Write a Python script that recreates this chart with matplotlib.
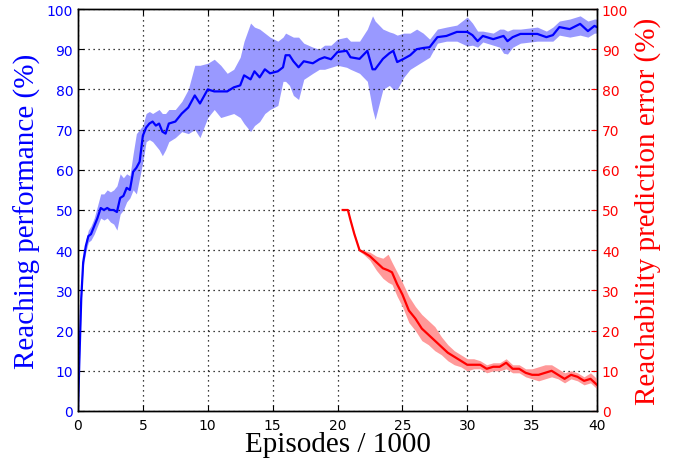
import matplotlib
matplotlib.use("Agg")
import matplotlib.pyplot as plt

# Blue series: reaching performance (%)
blue_x = [0.0, 0.1, 0.25, 0.4, 0.6, 0.8, 1.0, 1.25, 1.5, 1.75, 2.0, 2.25, 2.5, 2.75, 3.0, 3.25,
          3.5, 3.75, 4.0, 4.25, 4.5, 4.75, 5.0, 5.25, 5.5, 5.75, 6.0, 6.25, 6.5, 6.75, 7.0, 7.5,
          8.0, 8.5, 9.0, 9.4, 10.0, 10.5, 11.0, 11.5, 12.0, 12.5, 12.8, 13.3, 13.6, 14.0, 14.4,
          14.8, 15.4, 15.8, 16.0, 16.3, 16.6, 17.0, 17.4, 18.1, 18.6, 19.0, 19.5, 20.0, 20.7,
          21.0, 21.7, 22.3, 22.7, 22.9, 23.5, 24.0, 24.3, 24.6, 25.1, 25.6, 26.1, 26.6, 27.1,
          27.7, 28.4, 29.2, 30.0, 30.4, 30.8, 31.2, 32.0, 32.5, 32.8, 33.1, 33.5, 34.1, 35.4,
          36.1, 36.6, 37.1, 37.9, 38.7, 39.3, 39.8, 40.0]
blue_mean = [0, 12, 28, 37, 41, 43.5, 44, 46, 48, 50.5, 50, 50.5, 50, 50, 49.5, 53,
             53.5, 55.5, 55, 59.5, 60.5, 62, 68.5, 70.5, 71.5, 72, 71, 71.5, 69.5, 69, 71.5, 72,
             74, 75.5, 78.5, 76.5, 80, 79.5, 79.5, 79.5, 80.5, 81, 83.5, 82.5, 84.5, 83, 85,
             84, 84.5, 85.5, 88.5, 88.5, 87, 85.5, 87, 86.5, 87.5, 88, 87.5, 89.3, 89.6,
             88, 87.6, 89.6, 85, 85, 87.6, 89, 89.6, 86.8, 87.6, 88.5, 90, 90.3, 90.5,
             93, 93.3, 94.3, 94.3, 93.5, 92, 93.3, 92.5, 93, 93.3, 92, 93, 93.8, 93.8,
             93, 93.5, 95.5, 95, 96.3, 94.5, 95.8, 95.5]
blue_lo = [0, 11, 27, 36, 39.5, 42, 42.5, 44, 46, 48, 47.5, 48, 47, 46.5, 45, 49,
           50, 52, 53, 55, 54, 58, 62, 67, 67.5, 67, 66, 65, 63.5, 65, 67, 68,
           69.5, 69, 70, 68, 73, 75, 73, 73.5, 74, 73, 71.5, 69.5, 71, 72, 74,
           75, 76, 82, 82, 81, 78.5, 77.5, 82.5, 84, 85, 85, 85.5, 86, 85.5,
           85, 84, 82, 75, 72.5, 80, 81, 80, 80, 83, 85, 86, 87, 88,
           91.5, 92, 92, 90.8, 91, 90.5, 91.8, 91, 90.5, 89, 88.8, 90.5, 91.5, 92,
           92, 92, 93.5, 93, 93.5, 93, 94, 94]
blue_hi = [0, 13, 29.5, 38.5, 42.5, 45, 46, 48, 51, 54, 54, 55, 54.5, 55, 56, 59,
           58, 59, 58.5, 64, 69, 70, 71, 74, 74.5, 74, 74.5, 75, 74, 74, 75, 75,
           77, 80, 86, 86, 86.5, 87.5, 86, 84, 85, 88, 92, 96.5, 95.5, 95, 94,
           93, 92, 93, 94, 93.5, 93, 93, 91.5, 90.5, 90, 91, 91, 92.5, 93,
           92, 92, 95, 98.3, 97, 95, 94.3, 94, 93.5, 94, 94, 95, 94, 92.5,
           95, 95.5, 96, 98, 96.5, 94.5, 94.5, 94, 95, 95, 94.5, 95, 95, 95.5,
           94.5, 95.5, 97, 97.5, 98.3, 97, 97.5, 97.5]

# Red series: reachability prediction error (%)
red_x = [20.4, 20.8, 21.0, 21.3, 21.7, 22.0, 22.5, 23.0, 23.5, 23.9, 24.2, 24.6, 25.0, 25.5,
         26.0, 26.5, 27.0, 27.5, 28.0, 28.5, 29.0, 29.5, 30.0, 30.5, 31.0, 31.5, 32.0, 32.5,
         33.0, 33.5, 34.0, 34.5, 35.0, 35.5, 36.0, 36.5, 37.0, 37.5, 38.0, 38.5, 39.0, 39.5, 40.0]
red_mean = [50, 50, 47.5, 44, 40, 39.5, 38.5, 37, 35.5, 35, 34.5, 31.5, 29, 25,
            23, 20.5, 19, 17.5, 16, 14.5, 13.5, 12.5, 11.5, 11.5, 11.5, 10.5, 11, 11,
            12, 10.5, 10.5, 9.5, 9, 9, 9.5, 10, 9, 8, 9, 8.5, 7.5, 8, 6.5]
red_lo = [50, 50, 47.3, 43.7, 39.7, 39, 37.5, 35, 33, 32, 31.5, 28.5, 26, 22,
          20, 17.5, 16.5, 15, 14, 12.5, 11.5, 11, 10, 10.5, 10.5, 9.5, 10, 10,
          10.5, 9.5, 9.5, 8.5, 8, 7.5, 8, 8.5, 8, 7, 8, 7.5, 6.5, 7, 5.5]
red_hi = [50, 50, 47.7, 44.3, 40.3, 40, 39.5, 38.5, 38, 39, 37, 34.5, 32, 28.5,
          26, 24, 22.5, 21, 18.5, 16.5, 15, 14, 13, 13, 12.5, 11.5, 12, 12,
          13, 11.5, 11.5, 10.5, 10.5, 11, 11.5, 11.5, 10.5, 9.5, 10, 9.5, 8.5, 9.5, 8]

x_ticks = [0, 5, 10, 15, 20, 25, 30, 35, 40]
y_ticks = [0, 10, 20, 30, 40, 50, 60, 70, 80, 90, 100]

serif = ['Liberation Serif', 'DejaVu Serif']

fig = plt.figure(figsize=(6.78, 4.64), dpi=100)
ax = fig.add_axes([78/678, 52/464, (597-78)/678, (412-10)/464])
ax2 = ax.twinx()

ax.fill_between(blue_x, blue_lo, blue_hi, color='#9999ff', linewidth=0)
ax.plot(blue_x, blue_mean, color='#0000ff', linewidth=1.6)
ax2.fill_between(red_x, red_lo, red_hi, color='#ff9999', linewidth=0)
ax2.plot(red_x, red_mean, color='#ff0000', linewidth=1.6)

ax.set_xlim(0, 40)
ax.set_ylim(0, 100)
ax2.set_ylim(0, 100)
ax.set_xticks(x_ticks)
ax.set_yticks(y_ticks)
ax2.set_yticks(y_ticks)
ax.grid(True, color='k', linestyle=(0, (1, 3)), linewidth=0.9)

ax.tick_params(axis='both', direction='in', length=4, labelsize=10, top=True)
ax.tick_params(axis='x', pad=5, labelcolor='k')
ax.tick_params(axis='y', labelcolor='#0000ff', right=False)
ax2.tick_params(axis='y', direction='in', length=4, labelsize=10, colors='#ff0000')
for a in (ax, ax2):
    for s in a.spines.values():
        s.set_linewidth(1.0)
        s.set_color('k')

ax.set_xlabel('Episodes / 1000', fontsize=21, family=serif, labelpad=-1)
ax.set_ylabel('Reaching performance (%)', fontsize=21, family=serif, color='#0000ff', labelpad=4)
ax2.set_ylabel('Reachability prediction error (%)', fontsize=21, family=serif, color='#ff0000', labelpad=4)

fig.savefig('out.png', dpi=100)
